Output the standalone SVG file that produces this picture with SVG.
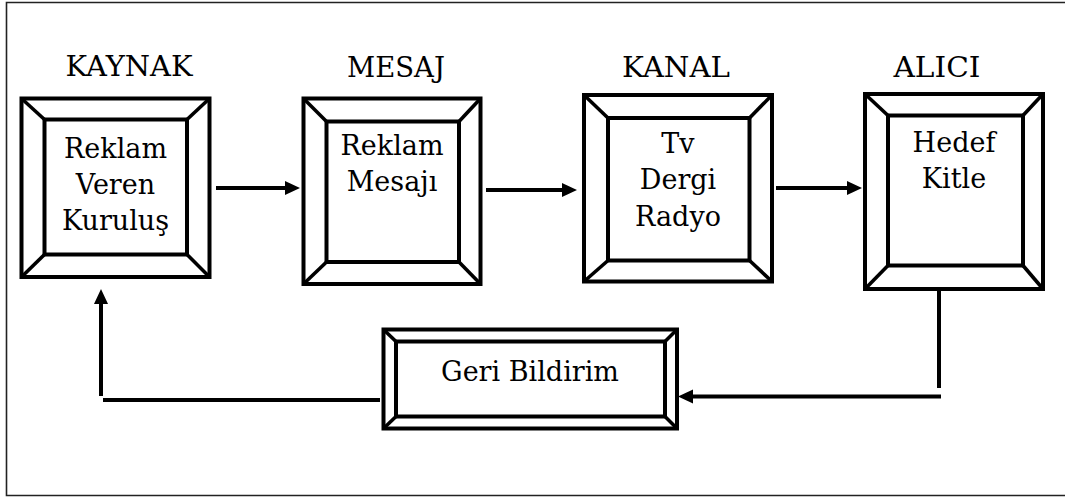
<svg xmlns="http://www.w3.org/2000/svg" width="1065" height="497" viewBox="0 0 1065 497">
  <style>
    .frame { fill: none; stroke: #222; stroke-width: 1.6; }
    .box { fill: #fff; stroke: #000; stroke-width: 4; }
    .inner { fill: none; stroke: #000; stroke-width: 4; }
    .bevel { stroke: #000; stroke-width: 3.6; }
    .txt { font-family: 'DejaVu Serif', serif; font-size: 27px; fill: #000; text-anchor: middle; }
    .conn { fill: none; stroke: #000; stroke-width: 4; }
  </style>
  <defs>
    <marker id="arrow" markerUnits="userSpaceOnUse" markerWidth="16" markerHeight="16" refX="9" refY="7" orient="auto">
      <path d="M0,0 L15,7 L0,14 z" fill="#000"/>
    </marker>
  </defs>

  <rect x="0" y="0" width="1065" height="497" fill="#fff"/>
  <!-- page frame, open on the right -->
  <polyline class="frame" points="1065,2.5 6.5,2.5 6.5,495.5 1065,495.5"/>

  <!-- headings -->
  <text class="txt" x="129" y="76" textLength="127" lengthAdjust="spacingAndGlyphs">KAYNAK</text>
  <text class="txt" x="396" y="77" textLength="98" lengthAdjust="spacingAndGlyphs">MESAJ</text>
  <text class="txt" x="676" y="77" textLength="108" lengthAdjust="spacingAndGlyphs">KANAL</text>
  <text class="txt" x="937" y="77" textLength="87" lengthAdjust="spacingAndGlyphs">ALICI</text>

  <g id="kaynak">
    <rect class="box" x="21.5" y="98.5" width="188" height="178.5"/>
    <rect class="inner" x="44.5" y="119.5" width="142.5" height="135"/>
    <line class="bevel" x1="21.5" y1="98.5" x2="44.5" y2="119.5"/>
    <line class="bevel" x1="209.5" y1="98.5" x2="187" y2="119.5"/>
    <line class="bevel" x1="21.5" y1="277" x2="44.5" y2="254.5"/>
    <line class="bevel" x1="209.5" y1="277" x2="187" y2="254.5"/>
    <text class="txt" x="115.5" y="158">Reklam</text>
    <text class="txt" x="115.5" y="194">Veren</text>
    <text class="txt" x="115.5" y="230">Kuruluş</text>
  </g>

  <g id="mesaj">
    <rect class="box" x="303.5" y="98.5" width="177" height="185.5"/>
    <rect class="inner" x="326.5" y="121.5" width="132.5" height="140.5"/>
    <line class="bevel" x1="303.5" y1="98.5" x2="326.5" y2="121.5"/>
    <line class="bevel" x1="480.5" y1="98.5" x2="459" y2="121.5"/>
    <line class="bevel" x1="303.5" y1="284" x2="326.5" y2="262"/>
    <line class="bevel" x1="480.5" y1="284" x2="459" y2="262"/>
    <text class="txt" x="392" y="155">Reklam</text>
    <text class="txt" x="392" y="191">Mesajı</text>
  </g>

  <g id="kanal">
    <rect class="box" x="584" y="95" width="188" height="186.5"/>
    <rect class="inner" x="608" y="118" width="141.5" height="142.5"/>
    <line class="bevel" x1="584" y1="95" x2="608" y2="118"/>
    <line class="bevel" x1="772" y1="95" x2="749.5" y2="118"/>
    <line class="bevel" x1="584" y1="281.5" x2="608" y2="260.5"/>
    <line class="bevel" x1="772" y1="281.5" x2="749.5" y2="260.5"/>
    <text class="txt" x="678" y="153">Tv</text>
    <text class="txt" x="678" y="189">Dergi</text>
    <text class="txt" x="678" y="226">Radyo</text>
  </g>

  <g id="alici">
    <rect class="box" x="865" y="94" width="178" height="195"/>
    <rect class="inner" x="888" y="115.5" width="135" height="150"/>
    <line class="bevel" x1="865" y1="94" x2="888" y2="115.5"/>
    <line class="bevel" x1="1043" y1="94" x2="1023" y2="115.5"/>
    <line class="bevel" x1="865" y1="289" x2="888" y2="265.5"/>
    <line class="bevel" x1="1043" y1="289" x2="1023" y2="265.5"/>
    <text class="txt" x="954" y="152">Hedef</text>
    <text class="txt" x="954" y="188">Kitle</text>
  </g>

  <g id="geri-bildirim">
    <rect class="box" x="383.5" y="329.5" width="293.5" height="99"/>
    <rect class="inner" x="396" y="341.5" width="269" height="75"/>
    <line class="bevel" x1="383.5" y1="329.5" x2="396" y2="341.5"/>
    <line class="bevel" x1="677" y1="329.5" x2="665" y2="341.5"/>
    <line class="bevel" x1="383.5" y1="428.5" x2="396" y2="416.5"/>
    <line class="bevel" x1="677" y1="428.5" x2="665" y2="416.5"/>
    <text class="txt" x="530" y="381">Geri Bildirim</text>
  </g>

  <g id="connectors">
    <path class="conn" d="M216,188 H294" marker-end="url(#arrow)"/>
    <path class="conn" d="M486,190 H571" marker-end="url(#arrow)"/>
    <path class="conn" d="M776,188 H856" marker-end="url(#arrow)"/>
    <path class="conn" d="M939,291 V388"/>
    <path class="conn" d="M941,396.5 H684" marker-end="url(#arrow)"/>
    <path class="conn" d="M380,400 H103"/>
    <path class="conn" d="M101,396 V295" marker-end="url(#arrow)"/>
  </g>
</svg>
